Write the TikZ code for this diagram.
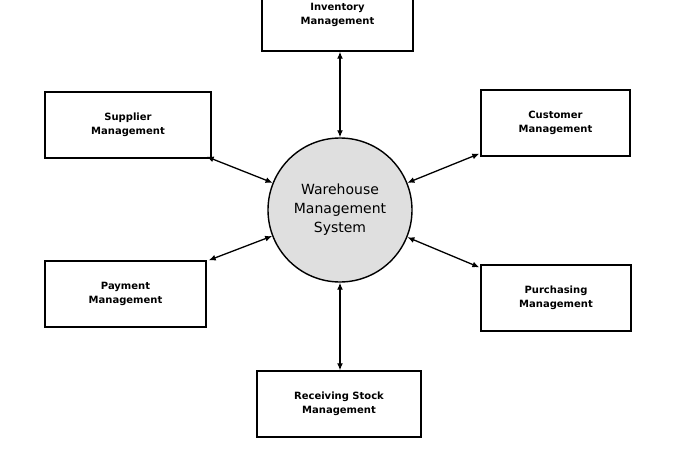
\documentclass[tikz,border=0pt]{standalone}
\usepackage{fontspec}
\setmainfont{DejaVu Sans}
\usetikzlibrary{arrows.meta}
\begin{document}
\begin{tikzpicture}[x=1pt,y=1pt,
  box/.style={draw=black,line width=1.4pt,fill=white,font=\bfseries\fontsize{10}{14}\selectfont,align=center,inner sep=0pt},
  conn/.style={line width=1.3pt,{Latex[length=7pt,width=6pt]}-{Latex[length=7pt,width=6pt]}}]
\useasboundingbox (0,0) rectangle (680,-463);
\fill[white] (0,0) rectangle (680,-463);
\node[draw=black,line width=1.4pt,fill=gray!25,circle,minimum size=144pt,inner sep=0pt,align=center,font=\fontsize{14}{19}\selectfont] (wms) at (340,-210) {Warehouse\\Management\\System};
\node[box,minimum width=151pt,minimum height=58pt] (inv) at (337.5,-22) {Inventory\\Management\\[2pt]};
\node[box,minimum width=166pt,minimum height=66pt] (sup) at (128,-125) {Supplier\\Management};
\node[box,minimum width=149pt,minimum height=66pt] (cus) at (555.5,-123) {Customer\\Management};
\node[box,minimum width=161pt,minimum height=66pt] (pay) at (125.5,-294) {Payment\\Management};
\node[box,minimum width=150pt,minimum height=66pt] (pur) at (556,-298) {Purchasing\\Management};
\node[box,minimum width=164pt,minimum height=66pt] (rec) at (339,-404) {Receiving Stock\\Management};
\draw[conn] (inv.south -| wms.north) -- (wms.north);
\draw[conn] ([xshift=-5pt,yshift=2pt]sup.south east) -- (wms.158);
\draw[conn] ([xshift=-1pt,yshift=3pt]cus.south west) -- (wms.22);
\draw[conn] ([xshift=2pt]pay.north east) -- (wms.201);
\draw[conn] ([xshift=-1pt,yshift=-3pt]pur.north west) -- (wms.338);
\draw[conn] (rec.north -| wms.south) -- (wms.south);
\end{tikzpicture}
\end{document}
